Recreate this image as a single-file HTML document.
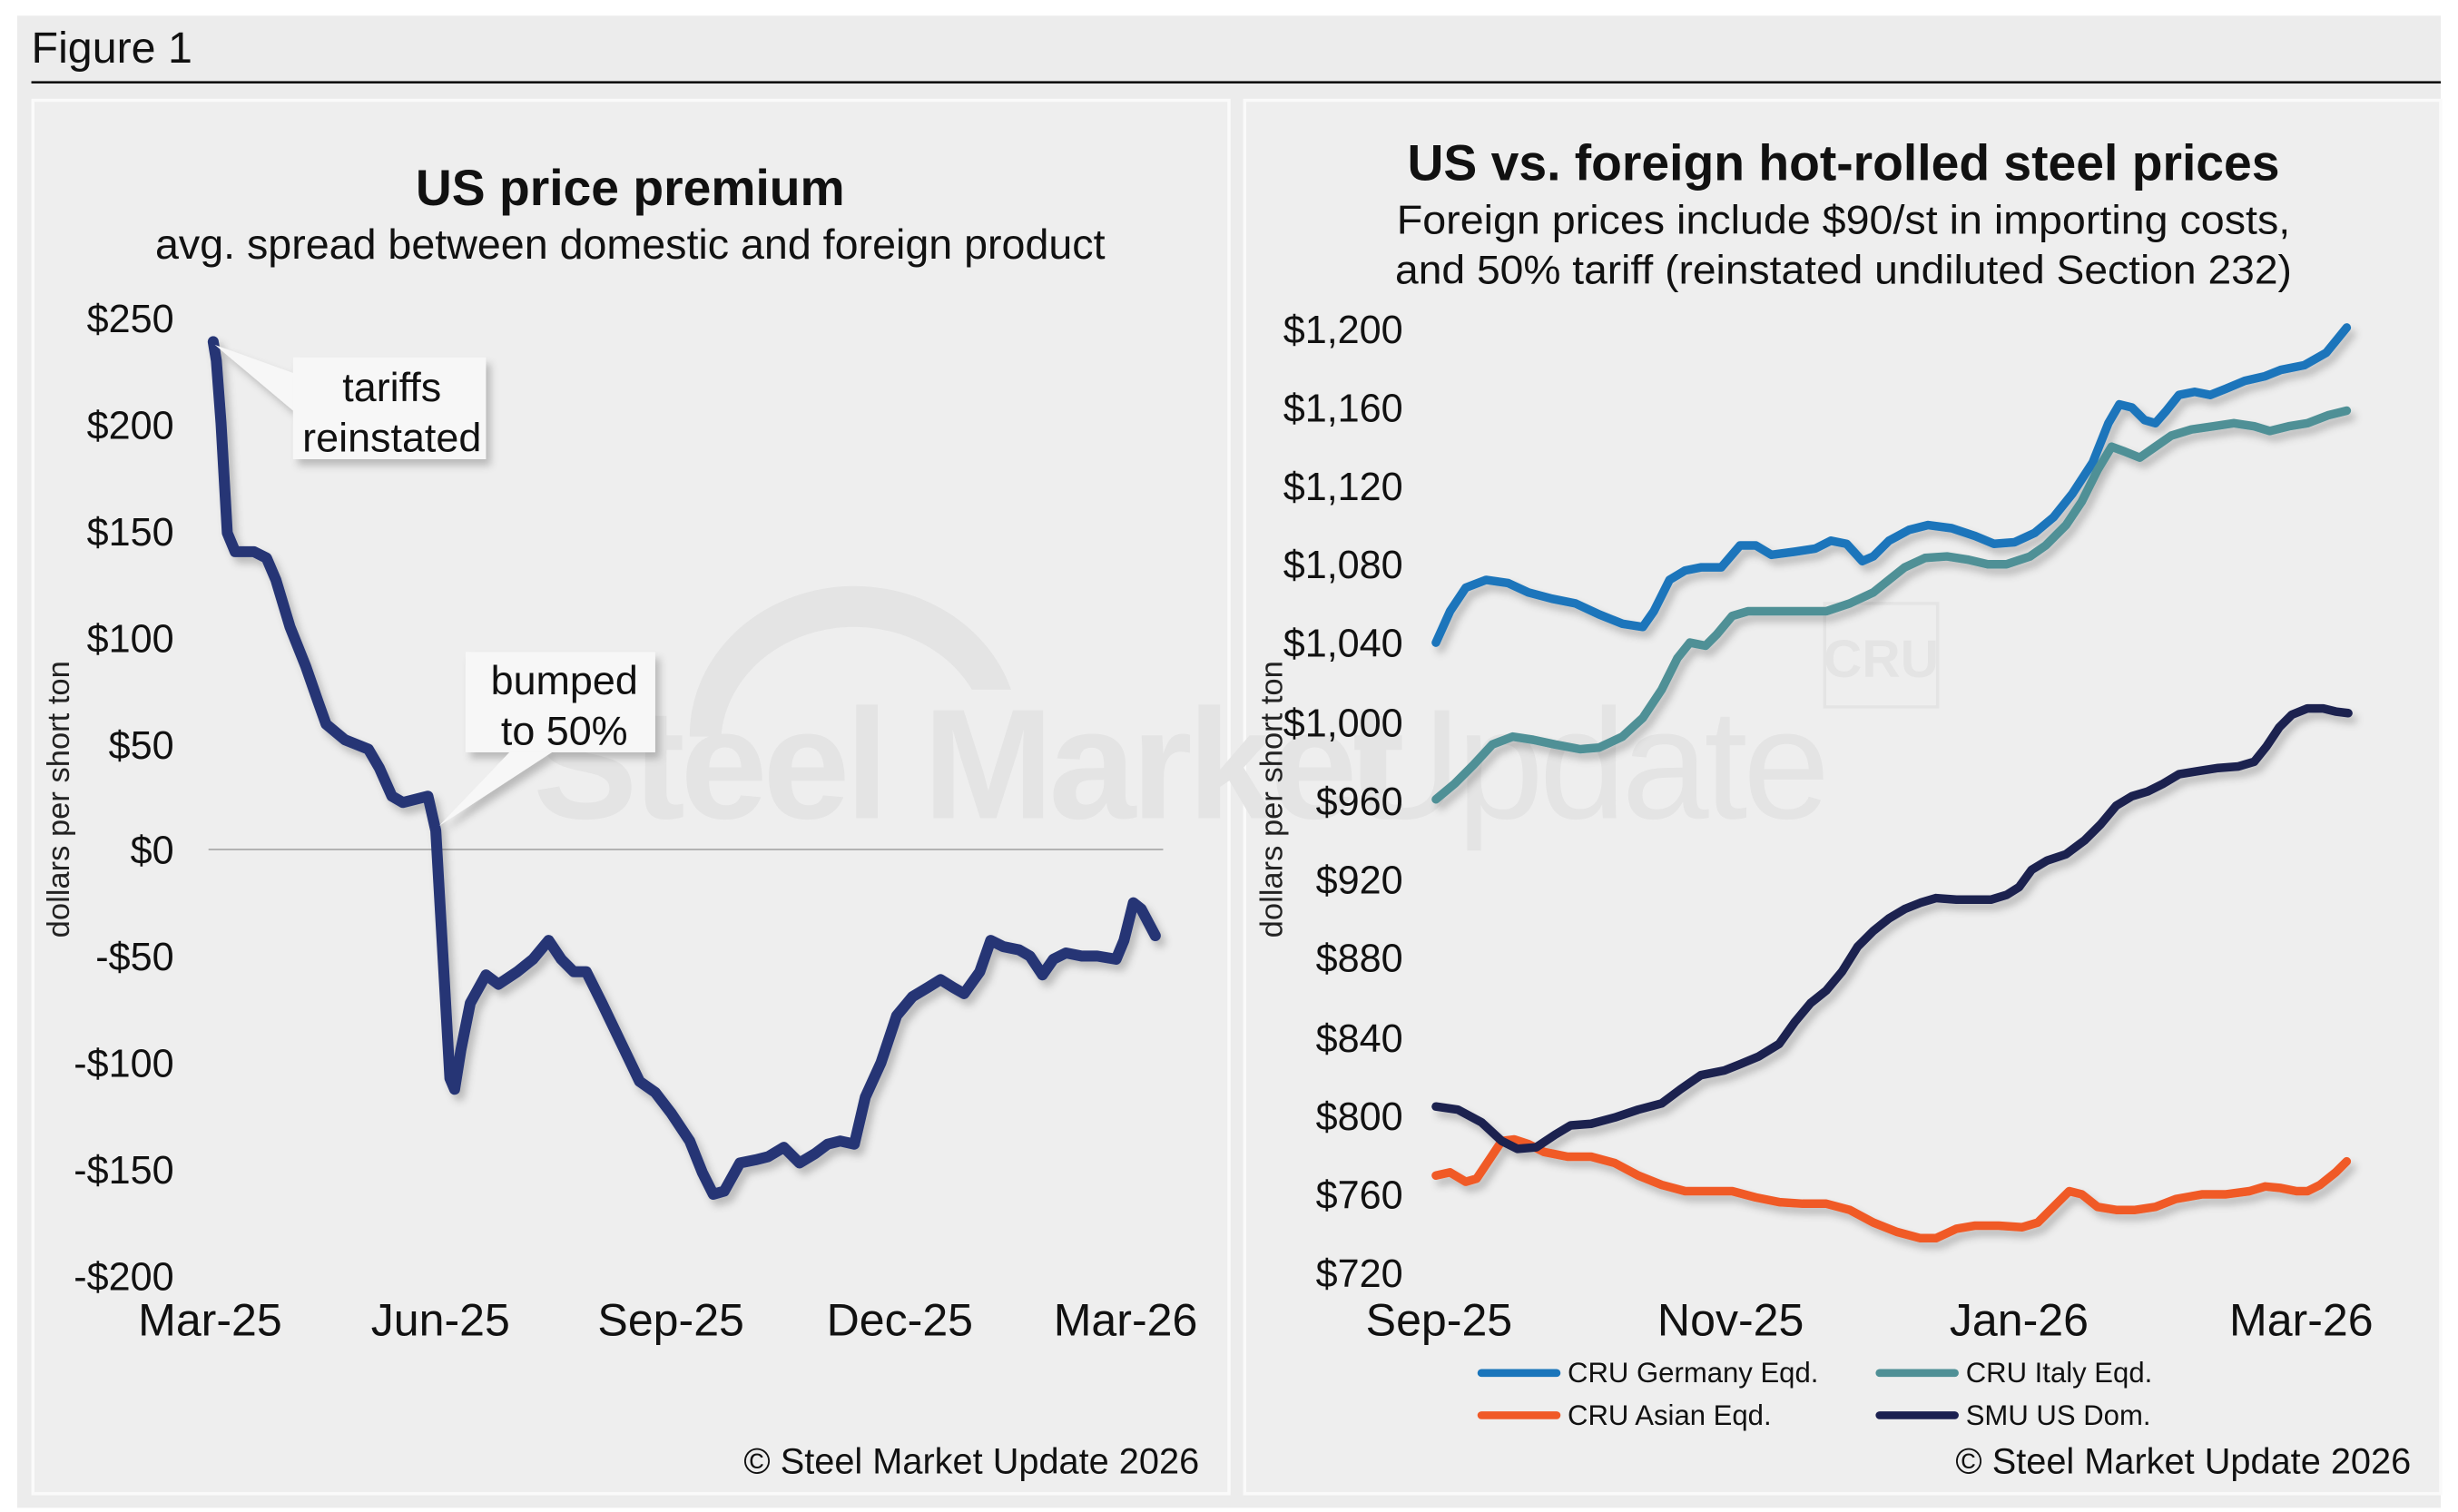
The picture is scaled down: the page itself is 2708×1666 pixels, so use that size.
<!DOCTYPE html>
<html><head><meta charset="utf-8"><style>
html,body{margin:0;padding:0;background:#fff;}
svg{display:block;font-family:"Liberation Sans",Arial,sans-serif;}
</style></head><body>
<svg width="2708" height="1666" viewBox="0 0 1568 964.7" preserveAspectRatio="none" xmlns="http://www.w3.org/2000/svg">
<defs>
<filter id="sh" x="-10%" y="-10%" width="130%" height="130%"><feDropShadow dx="3" dy="4" stdDeviation="2.5" flood-color="#000" flood-opacity="0.22"/></filter>
</defs>
<rect x="0" y="0" width="1568" height="965" fill="#fff"/>
<rect x="11" y="10" width="1546" height="952" fill="#ececec"/>
<text x="20" y="40" font-size="28" fill="#111">Figure 1</text>
<line x1="20" y1="52.5" x2="1557" y2="52.5" stroke="#111" stroke-width="1.5"/>
<rect x="21" y="64" width="763" height="889" fill="#eeeeee" stroke="#fafafa" stroke-width="2"/>
<rect x="794" y="64" width="763" height="889" fill="#eeeeee" stroke="#fafafa" stroke-width="2"/>

<!-- watermark -->
<g fill="#e4e4e4">
<path d="M440 470 A105 95 0 0 1 645 440 L620 440 A85 75 0 0 0 460 470 Z"/>
<text x="340" y="522" font-size="100" font-weight="bold" letter-spacing="-3">Steel Market</text>
<text x="860" y="522" font-size="100" letter-spacing="-3">Update</text>
<rect x="1164" y="385" width="72" height="66" fill="none" stroke="#e4e4e4" stroke-width="2"/>
<text x="1200" y="432" font-size="34" font-weight="bold" text-anchor="middle">CRU</text>
</g>

<!-- LEFT CHART -->
<text x="402" y="131" font-size="32" font-weight="bold" text-anchor="middle" fill="#111">US price premium</text>
<text x="402" y="165" font-size="27" text-anchor="middle" fill="#111" textLength="606" lengthAdjust="spacingAndGlyphs">avg. spread between domestic and foreign product</text>
<g font-size="25" text-anchor="end" fill="#111">
<text x="111" y="212">$250</text><text x="111" y="280">$200</text><text x="111" y="348">$150</text>
<text x="111" y="416">$100</text><text x="111" y="484">$50</text><text x="111" y="551">$0</text>
<text x="111" y="619">-$50</text><text x="111" y="687">-$100</text><text x="111" y="755">-$150</text>
<text x="111" y="823">-$200</text>
</g>
<line x1="133" y1="542" x2="742" y2="542" stroke="#aaa" stroke-width="1"/>
<g font-size="29" text-anchor="middle" fill="#111">
<text x="134" y="852">Mar-25</text><text x="281" y="852">Jun-25</text><text x="428" y="852">Sep-25</text>
<text x="574" y="852">Dec-25</text><text x="718" y="852">Mar-26</text>
</g>
<text transform="translate(44,510) rotate(-90)" font-size="20" text-anchor="middle" fill="#222">dollars per short ton</text>
<polyline filter="url(#sh)" fill="none" stroke="#253575" stroke-width="7" stroke-linejoin="round" stroke-linecap="round" points="136,218 138,230 141,270 145,340 150,352 162,352 170,356 176,370 185,400 195,425 203,448 208,462 220,472 235,478 242,490 250,508 257,512 265,510 273,508 278,530 282,600 287,688 290,695 294,670 300,640 310,622 318,628 330,620 340,612 350,600 358,612 366,620 374,620 384,640 396,665 408,690 418,697 428,710 440,728 448,748 455,762 462,760 472,742 482,740 490,738 500,732 510,742 520,736 528,730 536,728 545,730 552,700 562,678 572,648 582,636 592,630 600,625 608,630 615,634 625,620 632,600 640,604 650,606 657,610 665,622 672,612 680,608 690,610 700,610 712,612 717,600 723,576 728,580 737,597"/>
<!-- callouts -->
<g filter="url(#sh)">
<path d="M187 238 L137 220 L187 262 Z" fill="#f7f7f7"/>
<rect x="187" y="228" width="123" height="65" fill="#f7f7f7"/>
<path d="M325 480 L280 527 L352 480 Z" fill="#f7f7f7"/>
<rect x="297" y="416" width="121" height="64" fill="#f7f7f7"/>
</g>
<g font-size="26" text-anchor="middle" fill="#111">
<text x="250" y="256">tariffs</text><text x="250" y="288">reinstated</text>
<text x="360" y="443">bumped</text><text x="360" y="475">to 50%</text>
</g>
<text x="765" y="940" font-size="23" text-anchor="end" fill="#111">© Steel Market Update 2026</text>

<!-- RIGHT CHART -->
<text x="1176" y="115" font-size="32" font-weight="bold" text-anchor="middle" fill="#111">US vs. foreign hot-rolled steel prices</text>
<text x="1176" y="149" font-size="26" text-anchor="middle" fill="#111" textLength="570" lengthAdjust="spacingAndGlyphs">Foreign prices include $90/st in importing costs,</text>
<text x="1176" y="181" font-size="26" text-anchor="middle" fill="#111" textLength="572" lengthAdjust="spacingAndGlyphs">and 50% tariff (reinstated undiluted Section 232)</text>
<g font-size="25" text-anchor="end" fill="#111">
<text x="895" y="219">$1,200</text><text x="895" y="269">$1,160</text><text x="895" y="319">$1,120</text>
<text x="895" y="369">$1,080</text><text x="895" y="419">$1,040</text><text x="895" y="470">$1,000</text>
<text x="895" y="520">$960</text><text x="895" y="570">$920</text><text x="895" y="620">$880</text>
<text x="895" y="671">$840</text><text x="895" y="721">$800</text><text x="895" y="771">$760</text>
<text x="895" y="821">$720</text>
</g>
<text transform="translate(818,510) rotate(-90)" font-size="20" text-anchor="middle" fill="#222">dollars per short ton</text>
<g font-size="29" text-anchor="middle" fill="#111">
<text x="918" y="852">Sep-25</text><text x="1104" y="852">Nov-25</text><text x="1288" y="852">Jan-26</text><text x="1468" y="852">Mar-26</text>
</g>
<g filter="url(#sh)" fill="none" stroke-width="5.5" stroke-linejoin="round" stroke-linecap="round">
<polyline stroke="#1a75bb" points="916,410 925,390 935,375 948,370 962,372 975,378 990,382 1005,385 1020,392 1035,398 1048,400 1055,390 1065,370 1075,364 1085,362 1098,362 1110,348 1120,348 1130,354 1145,352 1158,350 1168,345 1178,347 1188,358 1195,355 1205,345 1218,338 1230,335 1245,337 1260,342 1272,347 1285,346 1298,340 1310,330 1322,315 1335,295 1345,270 1352,258 1360,260 1368,268 1375,270 1382,262 1390,252 1400,250 1410,252 1420,248 1432,243 1445,240 1455,236 1470,233 1484,225 1497,209"/>
<polyline stroke="#4f9096" points="916,510 928,500 940,488 952,475 965,470 978,472 992,475 1008,478 1020,477 1035,470 1048,458 1060,440 1070,420 1078,410 1088,412 1095,405 1105,393 1115,390 1130,390 1150,390 1165,390 1180,385 1195,378 1205,370 1215,362 1228,356 1242,355 1255,357 1268,360 1280,360 1295,355 1305,348 1318,335 1328,320 1338,300 1347,285 1355,288 1365,292 1375,285 1385,278 1398,274 1412,272 1425,270 1438,272 1448,275 1460,272 1472,270 1485,265 1497,262"/>
<polyline stroke="#f05a28" points="916,750 925,748 935,754 942,752 950,740 958,728 966,727 975,730 985,735 1000,738 1015,738 1030,742 1045,750 1060,756 1075,760 1090,760 1105,760 1120,764 1135,767 1150,768 1165,768 1180,772 1195,780 1210,786 1225,790 1235,790 1248,784 1260,782 1275,782 1290,783 1300,780 1310,770 1320,760 1328,762 1338,770 1350,772 1362,772 1375,770 1388,765 1405,762 1420,762 1435,760 1445,757 1455,758 1465,760 1472,760 1480,756 1490,748 1497,741"/>
<polyline stroke="#1b2050" points="916,706 930,709 945,717 958,729 968,733 980,732 990,726 1000,718 1015,716 1030,713 1045,708 1060,704 1072,695 1082,688 1095,684 1105,682 1112,677 1120,666 1130,652 1140,646 1148,640 1155,625 1162,606 1170,596 1178,590 1186,578 1194,560 1200,550 1208,546 1215,546 1222,538 1230,528 1238,522 1250,520 1262,521 1275,522 1282,515 1290,500 1298,484 1306,478 1315,476 1325,468 1335,460 1345,450 1352,442 1362,438 1372,436 1380,430 1390,424 1402,422 1412,420 1422,418 1430,412 1437,400 1445,392 1455,390 1465,392 1473,390 1480,384 1485,374 1490,462 1497,458" visibility="hidden"/>
<polyline stroke="#1b2050" points="916,706 930,708 945,716 958,728 968,733 980,732 992,724 1002,718 1015,717 1030,713 1045,708 1060,704 1072,695 1085,686 1100,683 1110,679 1122,674 1135,666 1145,652 1155,640 1165,632 1175,620 1185,604 1195,594 1205,586 1215,580 1225,576 1235,573 1248,574 1260,574 1270,574 1280,571 1288,566 1296,555 1306,549 1318,545 1330,536 1340,526 1350,514 1360,508 1370,505 1380,500 1390,494 1402,492 1415,490 1428,489 1438,486 1446,476 1454,464 1462,456 1472,452 1482,452 1490,454 1498,455"/>
</g>
<g stroke-width="5" stroke-linecap="round">
<line x1="945" y1="876" x2="993" y2="876" stroke="#1a75bb"/>
<line x1="1199" y1="876" x2="1247" y2="876" stroke="#4f9096"/>
<line x1="945" y1="903" x2="993" y2="903" stroke="#f05a28"/>
<line x1="1199" y1="903" x2="1247" y2="903" stroke="#1b2050"/>
</g>
<g font-size="18" fill="#111">
<text x="1000" y="882">CRU Germany Eqd.</text><text x="1254" y="882">CRU Italy Eqd.</text>
<text x="1000" y="909">CRU Asian Eqd.</text><text x="1254" y="909">SMU US Dom.</text>
</g>
<text x="1538" y="940" font-size="23" text-anchor="end" fill="#111">© Steel Market Update 2026</text>
</svg>
</body></html>
